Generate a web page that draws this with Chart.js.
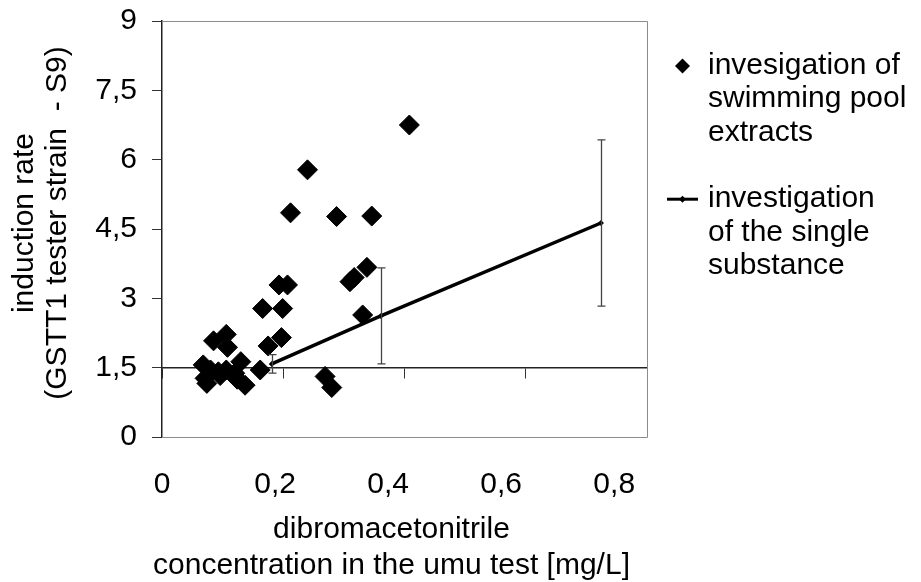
<!DOCTYPE html>
<html>
<head>
<meta charset="utf-8">
<script src="https://cdn.jsdelivr.net/npm/chart.js@4/dist/chart.umd.min.js"></script>
<style>
  html, body { margin: 0; padding: 0; background: #fff; }
  #wrap { width: 921px; height: 582px; }
</style>
</head>
<body>
<div id="wrap"><canvas id="c" width="921" height="582"></canvas></div>
<script>
// ---- data ----
const poolX = [0.068,0.071,0.074,0.080,0.085,0.093,0.096,0.106,0.106,0.108,0.120,0.124,0.130,0.137,0.162,0.166,0.175,0.193,0.197,0.199,0.207,0.212,0.240,0.269,0.280,0.288,0.310,0.317,0.331,0.338,0.346,0.408];
const poolY = [1.56,1.27,1.16,1.45,2.08,1.41,1.33,1.45,2.22,1.94,1.38,1.25,1.63,1.12,1.45,2.78,1.97,3.29,2.15,2.78,3.29,4.85,5.78,1.31,1.07,4.77,3.36,3.45,2.64,3.67,4.78,6.75];
const singleX = [0.181, 0.361, 0.724];
const singleY = [1.58, 2.62, 4.63];
const singleErr = [0.2, 1.04, 1.8];
const poolLabel = ['invesigation of', 'swimming pool', 'extracts'];
const singleLabel = ['investigation', 'of the single', 'substance'];
const xTickValues = [0, 0.2, 0.4, 0.6, 0.8];
const xTickLabels = ['0', '0,2', '0,4', '0,6', '0,8'];
const yTickLabels = ['0', '1,5', '3', '4,5', '6', '7,5', '9'];
const xTitle = ['dibromacetonitrile', 'concentration in the umu test [mg/L]'];
const yTitle = ['induction rate', '(GSTT1 tester strain  - S9)'];

const FAMILY = "'Liberation Sans', Arial, sans-serif";
Chart.defaults.font.family = FAMILY;
Chart.defaults.font.size = 30;
Chart.defaults.color = '#000';

const FONT = { family: FAMILY, size: 30, lineHeight: 1.117 };

const framePlugin = {
  id: 'frame',
  beforeDatasetsDraw(chart) {
    const a = chart.chartArea, ctx = chart.ctx;
    ctx.save();
    ctx.strokeStyle = '#8c8c8c';
    ctx.lineWidth = 1;
    ctx.beginPath();
    ctx.moveTo(a.left, Math.round(a.top) + 0.5);
    ctx.lineTo(Math.round(a.right) + 0.5, Math.round(a.top) + 0.5);
    ctx.lineTo(Math.round(a.right) + 0.5, Math.round(a.bottom) + 0.5);
    ctx.lineTo(a.left, Math.round(a.bottom) + 0.5);
    ctx.stroke();
    ctx.restore();
  }
};

const errorBarPlugin = {
  id: 'errbars',
  afterDatasetsDraw(chart) {
    const xs = chart.scales.x, ys = chart.scales.y, ctx = chart.ctx;
    ctx.save();
    ctx.strokeStyle = '#444';
    ctx.lineWidth = 1.3;
    for (let i = 0; i < singleX.length; i++) {
      const px = Math.round(xs.getPixelForValue(singleX[i])) + 0.5;
      const top = ys.getPixelForValue(singleY[i] + singleErr[i]);
      const bot = ys.getPixelForValue(singleY[i] - singleErr[i]);
      ctx.beginPath();
      ctx.moveTo(px, top); ctx.lineTo(px, bot);
      ctx.moveTo(px - 4, top); ctx.lineTo(px + 4, top);
      ctx.moveTo(px - 4, bot); ctx.lineTo(px + 4, bot);
      ctx.stroke();
    }
    ctx.restore();
  }
};

const titlesPlugin = {
  id: 'axisTitles',
  afterDraw(chart) {
    const ctx = chart.ctx;
    ctx.save();
    ctx.font = '30px ' + FAMILY;
    ctx.fillStyle = '#000';
    ctx.textAlign = 'center';
    ctx.textBaseline = 'middle';
    // x title
    xTitle.forEach((t, i) => ctx.fillText(t, 391.5, 530 + i * 36));
    // y title (rotated)
    ctx.translate(24.5, 223);
    ctx.rotate(-Math.PI / 2);
    yTitle.forEach((t, i) => ctx.fillText(t, 0, i * 33));
    ctx.restore();
  }
};

const legendPlugin = {
  id: 'customLegend',
  afterDraw(chart) {
    const ctx = chart.ctx;
    ctx.save();
    ctx.font = '30px ' + FAMILY;
    ctx.fillStyle = '#000';
    ctx.textBaseline = 'alphabetic';
    ctx.textAlign = 'left';
    const textX = 708, lh = 33.3;
    // entry 1
    let base = 74;
    poolLabel.forEach((t, i) => ctx.fillText(t, textX, base + i * lh));
    ctx.beginPath();
    const cx = 682.5, cy = 66, r = 7.5;
    ctx.moveTo(cx - r, cy); ctx.lineTo(cx, cy - r); ctx.lineTo(cx + r, cy); ctx.lineTo(cx, cy + r);
    ctx.closePath(); ctx.fill();
    // entry 2
    base = 74 + 4 * lh;
    singleLabel.forEach((t, i) => ctx.fillText(t, textX, base + i * lh));
    const ly = base - 8;
    ctx.strokeStyle = '#000';
    ctx.lineWidth = 3;
    ctx.beginPath(); ctx.moveTo(667, ly); ctx.lineTo(698, ly); ctx.stroke();
    ctx.beginPath();
    const r2 = 3.5;
    ctx.moveTo(cx - r2, ly); ctx.lineTo(cx, ly - r2); ctx.lineTo(cx + r2, ly); ctx.lineTo(cx, ly + r2);
    ctx.closePath(); ctx.fill();
    ctx.restore();
  }
};

const zeroPad = (s) => { s.paddingTop = 0; s.paddingBottom = 0; s.paddingLeft = 0; s.paddingRight = 0; };

new Chart(document.getElementById('c'), {
  type: 'scatter',
  data: {
    datasets: [
      {
        label: poolLabel.join(' '),
        data: poolX.map((x, i) => ({ x: x, y: poolY[i] })),
        pointStyle: 'rectRot',
        pointRadius: 10,
        pointBackgroundColor: '#000',
        pointBorderColor: '#000',
        pointBorderWidth: 1,
        showLine: false,
        order: 1
      },
      {
        label: singleLabel.join(' '),
        data: singleX.map((x, i) => ({ x: x, y: singleY[i] })),
        showLine: true,
        borderColor: '#000',
        borderWidth: 3.5,
        pointStyle: 'rectRot',
        pointRadius: 3,
        pointBackgroundColor: '#000',
        pointBorderColor: '#000',
        pointBorderWidth: 0,
        order: 2
      }
    ]
  },
  options: {
    responsive: false,
    animation: false,
    events: [],
    layout: { padding: { left: 0, top: 21, right: 274, bottom: 0 } },
    plugins: { legend: { display: false }, tooltip: { enabled: false } },
    scales: {
      x: {
        type: 'linear',
        min: 0, max: 0.8,
        position: { y: 1.5 },
        afterFit: zeroPad,
        ticks: { display: false, stepSize: 0.2 },
        grid: { drawOnChartArea: false, drawTicks: true, tickLength: 10, color: '#333', lineWidth: 1 },
        border: { display: true, color: '#222', width: 1.5 }
      },
      xl: {
        type: 'linear',
        axis: 'x',
        position: 'bottom',
        min: 0, max: 0.858,
        afterBuildTicks: (s) => { s.ticks = xTickValues.map(v => ({ value: v })); },
        afterFit: (s) => { s.height = 145; zeroPad(s); },
        ticks: {
          autoSkip: false, maxRotation: 0, padding: 31,
          font: FONT,
          callback: (v, i) => xTickLabels[i]
        },
        grid: { display: false, drawTicks: false },
        border: { display: false }
      },
      y: {
        type: 'linear',
        position: 'left',
        min: 0, max: 9,
        afterFit: (s) => { s.width = 162; zeroPad(s); },
        ticks: {
          stepSize: 1.5, padding: 15, font: FONT,
          callback: (v, i) => yTickLabels[i]
        },
        grid: { drawOnChartArea: false, drawTicks: true, tickLength: 10, color: '#333', lineWidth: 1 },
        border: { display: true, color: '#222', width: 1.5 }
      }
    }
  },
  plugins: [framePlugin, errorBarPlugin, titlesPlugin, legendPlugin]
});
</script>
</body>
</html>
